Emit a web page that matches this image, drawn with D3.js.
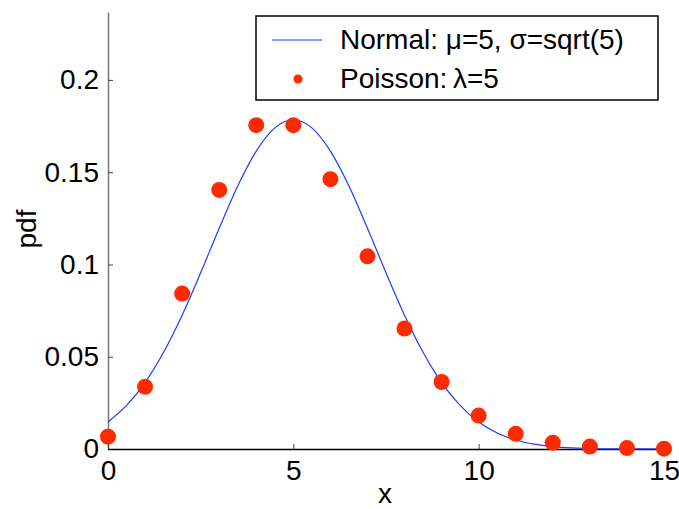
<!DOCTYPE html>
<html>
<head>
<meta charset="utf-8">
<script src="https://d3js.org/d3.v7.min.js"></script>
<style>
  body { margin: 0; background: #fff; }
  text { font-family: "Liberation Sans", Arial, sans-serif; }
</style>
</head>
<body>
<svg id="chart" width="679" height="509"></svg>
<script>
// Poisson points (lambda = 5)
const poissonX = [0, 1, 2, 3, 4, 5, 6, 7, 8, 9, 10, 11, 12, 13, 14, 15];
const poissonY = [0.0067, 0.0337, 0.0842, 0.1404, 0.1755, 0.1755, 0.1462, 0.1044,
                  0.0653, 0.0363, 0.0181, 0.0082, 0.0034, 0.0013, 0.0005, 0.0002];

// normal curve samples (mu = 5, sigma = sqrt(5))
const normalX = [0, 0.5, 1, 1.5, 2, 2.5, 3, 3.5, 4, 4.5, 5, 5.5, 6, 6.5, 7, 7.5,
                 8, 8.5, 9, 9.5, 10, 10.5, 11, 11.5, 12, 12.5, 13, 13.5, 14, 15];
const normalY = [0.0146, 0.0236, 0.0360, 0.0524, 0.0725, 0.0955, 0.1196, 0.1425,
                 0.1614, 0.1740, 0.1784, 0.1740, 0.1614, 0.1425, 0.1196, 0.0955,
                 0.0725, 0.0524, 0.0360, 0.0236, 0.0146, 0.0087, 0.0049, 0.0026,
                 0.0013, 0.0006, 0.0003, 0.0001, 0.0001, 0.0000];

const xTicks = [0, 5, 10, 15];
const yTicks = [0, 0.05, 0.1, 0.15, 0.2];
const yTickLabels = ["0", "0.05", "0.1", "0.15", "0.2"];

const svg = d3.select("#chart");
const margin = {top: 12, right: 15, bottom: 60, left: 108};
const width = 679 - margin.left - margin.right;
const height = 509 - margin.top - margin.bottom;

const xScale = d3.scaleLinear().domain([0, 15]).range([0, width]);
const yScale = d3.scaleLinear().domain([0, 0.2368]).range([height, 0]);

let g = svg.append("g")
    .attr("transform", "translate(" + margin.left + "," + margin.top + ")");

// y axis (gray line, ticks pointing inward)
let yAxis = g.append("g")
    .call(d3.axisLeft(yScale).tickValues(yTicks)
        .tickFormat((d, i) => yTickLabels[i]).tickSizeInner(-5).tickSizeOuter(0).tickPadding(9));
yAxis.select(".domain").attr("stroke", "#777").attr("stroke-width", 1.5);
yAxis.selectAll(".tick line").attr("stroke", "#444");
yAxis.selectAll("text").attr("font-size", 28).attr("fill", "#000")
    .attr("font-family", "Liberation Sans, Arial, sans-serif");

// x axis
let xAxis = g.append("g")
    .attr("transform", "translate(0," + height + ")")
    .call(d3.axisBottom(xScale).tickValues(xTicks)
        .tickSizeInner(-5).tickSizeOuter(0).tickPadding(11));
xAxis.select(".domain").attr("stroke", "#000").attr("stroke-width", 1.5);
xAxis.selectAll(".tick line").attr("stroke", "#444");
xAxis.selectAll("text").attr("font-size", 28).attr("fill", "#000")
    .attr("font-family", "Liberation Sans, Arial, sans-serif");

// normal curve
const normalData = normalX.map((x, i) => [x, normalY[i]]);
g.append("path")
    .datum(normalData)
    .attr("fill", "none")
    .attr("stroke", "#1f3bff")
    .attr("stroke-width", 1.2)
    .attr("d", d3.line()
        .x(d => xScale(d[0]))
        .y(d => yScale(d[1]))
        .curve(d3.curveMonotoneX));

// poisson dots
const poissonData = poissonX.map((x, i) => [x, poissonY[i]]);
g.selectAll("circle.pt")
    .data(poissonData)
    .enter()
    .append("circle")
        .attr("class", "pt")
        .attr("cx", d => xScale(d[0]))
        .attr("cy", d => yScale(d[1]))
        .attr("r", 8)
        .attr("fill", "#ff2a00");

// axis labels
svg.append("text")
    .attr("x", 385).attr("y", 503)
    .attr("text-anchor", "middle")
    .attr("font-size", 28)
    .text("x");

svg.append("text")
    .attr("transform", "translate(36,229) rotate(-90)")
    .attr("text-anchor", "middle")
    .attr("font-size", 28)
    .text("pdf");

// legend
let legend = svg.append("g");
legend.append("rect")
    .attr("x", 256).attr("y", 16)
    .attr("width", 402).attr("height", 84)
    .attr("fill", "#fff")
    .attr("stroke", "#000")
    .attr("stroke-width", 1.5);
legend.append("line")
    .attr("x1", 272).attr("x2", 322)
    .attr("y1", 40).attr("y2", 40)
    .attr("stroke", "#1f3bff").attr("stroke-width", 1.2);
legend.append("text")
    .attr("x", 340).attr("y", 49)
    .attr("font-size", 28)
    .text("Normal: \u03bc=5, \u03c3=sqrt(5)");
legend.append("circle")
    .attr("cx", 298).attr("cy", 79).attr("r", 4.5)
    .attr("fill", "#ff2a00");
legend.append("text")
    .attr("x", 340).attr("y", 88)
    .attr("font-size", 28)
    .text("Poisson:\u2009\u03bb=5");
</script>
</body>
</html>
